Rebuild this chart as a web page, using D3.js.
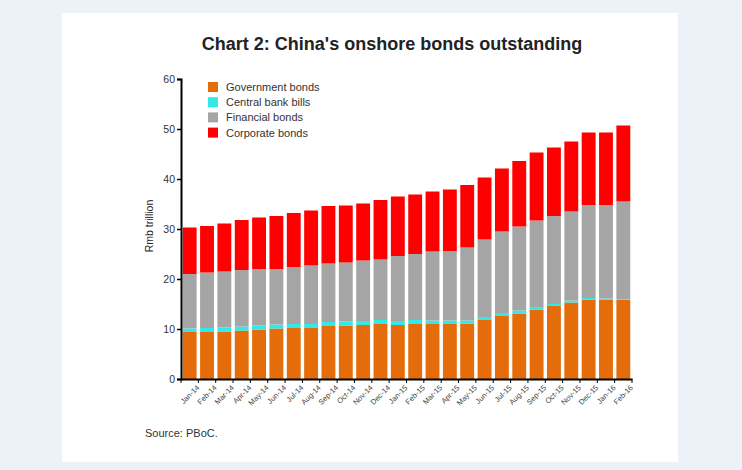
<!DOCTYPE html>
<html>
<head>
<meta charset="utf-8">
<script src="https://cdn.jsdelivr.net/npm/d3@7"></script>
<style>
  body { margin: 0; background: #edf1f8; }
  svg { display: block; font-family: "Liberation Sans", Arial, sans-serif; }
</style>
</head>
<body>
<div id="chart"></div>
<script>
// months on the x axis
var months = ["Jan-14","Feb-14","Mar-14","Apr-14","May-14","Jun-14","Jul-14","Aug-14","Sep-14","Oct-14","Nov-14","Dec-14",
              "Jan-15","Feb-15","Mar-15","Apr-15","May-15","Jun-15","Jul-15","Aug-15","Sep-15","Oct-15","Nov-15","Dec-15",
              "Jan-16","Feb-16"]
// Rmb trillion
var government = [9.4,9.4,9.5,9.7,9.9,10.1,10.2,10.2,10.6,10.7,10.8,11.0,10.8,11.0,11.0,11.0,11.1,11.8,12.6,13.1,13.9,14.6,15.3,15.9,15.9,15.8]
var centralBank = [0.7,0.8,0.8,0.8,0.8,0.8,0.8,0.8,0.8,0.8,0.8,0.8,0.8,0.8,0.7,0.7,0.6,0.6,0.6,0.6,0.5,0.4,0.4,0.3,0.2,0.1]
var financial = [10.9,11.1,11.2,11.3,11.3,11.1,11.4,11.7,11.7,11.8,12.1,12.1,13.0,13.2,13.8,13.9,14.6,15.5,16.3,16.8,17.3,17.6,17.8,18.6,18.7,19.6]
var corporate = [9.3,9.3,9.6,10.0,10.3,10.6,10.8,11.0,11.5,11.4,11.4,11.9,11.9,11.9,12.0,12.3,12.5,12.4,12.6,13.1,13.6,13.7,14.0,14.5,14.5,15.2]
var seriesNames = ["Government bonds","Central bank bills","Financial bonds","Corporate bonds"]
var seriesColors = ["#e46c0a","#33e8e8","#a5a5a5","#ff0000"]
var yTicks = [0,10,20,30,40,50,60]

var table = months.map(function(m, i) {
  return {month: m, gov: government[i], cb: centralBank[i], fin: financial[i], corp: corporate[i]}
})
var keys = ["gov","cb","fin","corp"]

var svg = d3.select('#chart')
  .append('svg')
  .attr('width', 742)
  .attr('height', 470)

// white panel
svg.append('rect')
  .attr('x', 62).attr('y', 13)
  .attr('width', 616).attr('height', 449)
  .attr('fill', '#ffffff')

svg.append('text')
  .attr('x', 392).attr('y', 50)
  .attr('text-anchor', 'middle')
  .attr('font-size', 18)
  .attr('font-weight', 'bold')
  .attr('fill', '#222')
  .text("Chart 2: China's onshore bonds outstanding")

var x = d3.scaleBand()
  .domain(months)
  .range([181, 632])
  .paddingInner(0.2)
  .paddingOuter(0.1)

var y = d3.scaleLinear()
  .domain([0, 60])
  .range([379, 79])

var stack = d3.stack().keys(keys)(table)

svg.append('g')
  .selectAll('g')
  .data(stack)
  .join('g')
  .attr('fill', function(d, i) { return seriesColors[i] })
  .selectAll('rect')
  .data(function(d) { return d })
  .join('rect')
  .attr('x', function(d) { return x(d.data.month) })
  .attr('width', x.bandwidth())
  .attr('y', function(d) { return y(d[1]) })
  .attr('height', function(d) { return y(d[0]) - y(d[1]) })

// y axis
var yAxis = svg.append('g')
  .attr('transform', 'translate(181,0)')
  .call(d3.axisLeft(y).tickValues(yTicks).tickSize(4).tickPadding(2))
yAxis.select('.domain').attr('stroke', '#000').attr('stroke-width', 2)
yAxis.selectAll('.tick line').attr('stroke', '#000').attr('stroke-width', 1.5)
yAxis.selectAll('.tick text').attr('font-size', 10.5).attr('fill', '#333')
  .attr('font-family', '"Liberation Sans", Arial, sans-serif')

// x axis, ticks between categories
var xAxis = svg.append('g')
  .attr('transform', 'translate(0,379)')
  .call(d3.axisBottom(x).tickSize(0).tickPadding(5))
xAxis.select('.domain').attr('stroke', '#000').attr('stroke-width', 2)
xAxis.selectAll('.tick text')
  .attr('font-size', 7.5)
  .attr('fill', '#444')
  .attr('font-family', '"Liberation Sans", Arial, sans-serif')
  .attr('text-anchor', 'end')
  .attr('transform', 'translate(4,3) rotate(-45)')
  .attr('dy', '0.5em')
xAxis.selectAll('.sep')
  .data(d3.range(months.length + 1))
  .join('line')
  .attr('x1', function(i) { return 181 + i * 451 / months.length })
  .attr('x2', function(i) { return 181 + i * 451 / months.length })
  .attr('y1', 0).attr('y2', 4)
  .attr('stroke', '#000')

svg.append('text')
  .attr('transform', 'translate(153,226) rotate(-90)')
  .attr('text-anchor', 'middle')
  .attr('font-size', 10.5)
  .attr('fill', '#222')
  .text('Rmb trillion')

// legend
var legend = svg.append('g')
  .selectAll('g')
  .data(seriesNames)
  .join('g')
  .attr('transform', function(d, i) { return 'translate(208,' + (82 + i * 15.2) + ')' })
legend.append('rect')
  .attr('width', 10).attr('height', 10)
  .attr('fill', function(d, i) { return seriesColors[i] })
legend.append('text')
  .attr('x', 18).attr('y', 9)
  .attr('font-size', 11)
  .attr('fill', '#333')
  .text(function(d) { return d })

svg.append('text')
  .attr('x', 145).attr('y', 437)
  .attr('font-size', 11)
  .attr('fill', '#333')
  .text('Source: PBoC.')
</script>
</body>
</html>
